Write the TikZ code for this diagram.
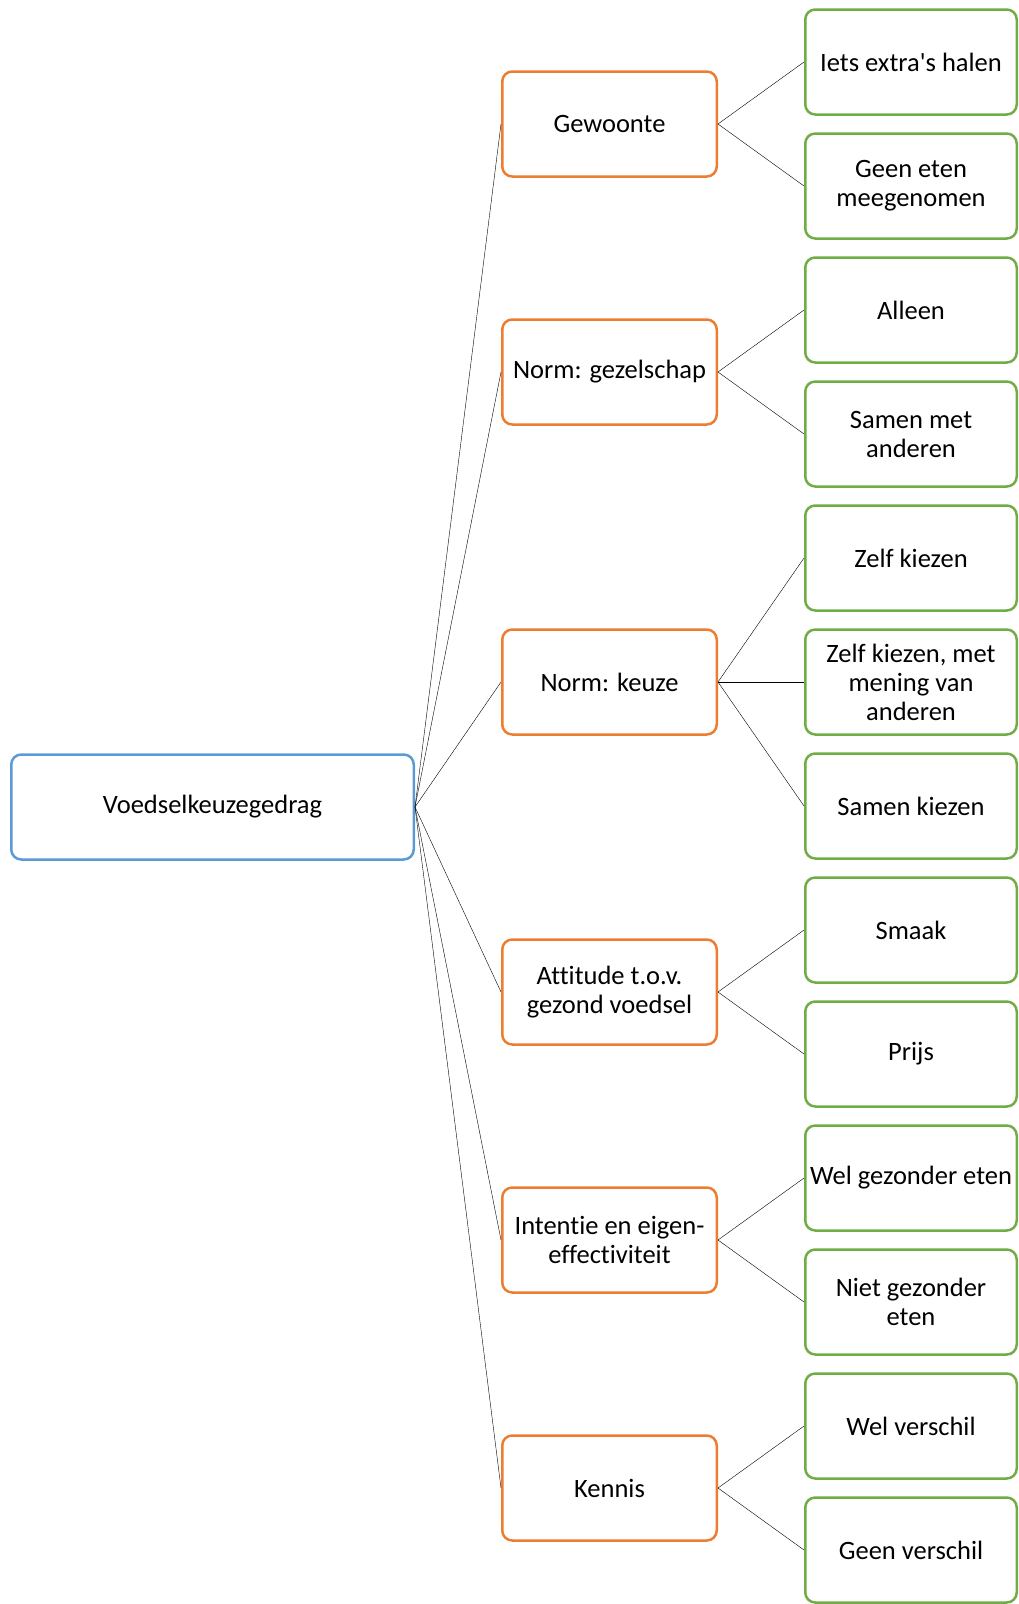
\documentclass[tikz,border=0pt]{standalone}
\usepackage{fontspec}
\newfontfamily\calibri{Carlito}[Ligatures=NoCommon]
\usetikzlibrary{positioning}
\definecolor{hoofdblauw}{HTML}{5B9BD5}
\definecolor{factororanje}{HTML}{ED7D31}
\definecolor{antwoordgroen}{HTML}{70AD47}
\tikzset{
    -,line width=1.2,
    box/.style ={rectangle, rounded corners=10, line width=2.5, align=center,
        font=\calibri\fontsize{26.5}{29}\selectfont, inner sep=2},
    hoofd/.style = {box, draw=hoofdblauw, minimum width=402.5, minimum height=105},
    factor/.style = {box, draw=factororanje, minimum width=214.5, minimum height=105},
    antwoord/.style = {box, draw=antwoordgroen, minimum width=211.5, minimum height=105}
}

\begin{document}
\begin{tikzpicture}[x=1pt,y=-1pt]
	\useasboundingbox (0,0) rectangle (1019,1604);

	\node[hoofd] (voedsel) at (212.5,807) {Voedselkeuzegedrag};

	\node[factor] (gewoonte) at (609.5,124) {Gewoonte};
	\node[factor] (gezelschap) at (609.5,372) {Norm: gezelschap};
	\node[factor] (keuze) at (609.5,682) {Norm: keuze};
	\node[factor] (attitude) at (609.5,992) {Attitude t.o.v.\\gezond voedsel};
	\node[factor] (intentie) at (609.5,1240) {Intentie en eigen-\\effectiviteit};
	\node[factor] (kennis) at (609.5,1488) {Kennis};

	\node[antwoord] (extra) at (911,62) {Iets extra's halen};
	\node[antwoord] (geeneten) at (911,186) {Geen eten\\meegenomen};
	\node[antwoord] (alleen) at (911,310) {Alleen};
	\node[antwoord] (samen) at (911,434) {Samen met\\anderen};
	\node[antwoord] (zelf) at (911,558) {Zelf kiezen};
	\node[antwoord] (mening) at (911,682) {Zelf kiezen, met\\mening van\\anderen};
	\node[antwoord] (samenkiezen) at (911,806) {Samen kiezen};
	\node[antwoord] (smaak) at (911,930) {Smaak};
	\node[antwoord] (prijs) at (911,1054) {Prijs};
	\node[antwoord] (welgezond) at (911,1178) {Wel gezonder eten};
	\node[antwoord] (nietgezond) at (911,1302) {Niet gezonder\\eten};
	\node[antwoord] (welverschil) at (911,1426) {Wel verschil};
	\node[antwoord] (geenverschil) at (911,1550) {Geen verschil};

	\path (voedsel.east) edge (gewoonte.west);
	\path (voedsel.east) edge (gezelschap.west);
	\path (voedsel.east) edge (keuze.west);
	\path (voedsel.east) edge (attitude.west);
	\path (voedsel.east) edge (intentie.west);
	\path (voedsel.east) edge (kennis.west);

	\path (gewoonte.east) edge (extra.west);
	\path (gewoonte.east) edge (geeneten.west);
	\path (gezelschap.east) edge (alleen.west);
	\path (gezelschap.east) edge (samen.west);
	\path (keuze.east) edge (zelf.west);
	\path (keuze.east) edge (mening.west);
	\path (keuze.east) edge (samenkiezen.west);
	\path (attitude.east) edge (smaak.west);
	\path (attitude.east) edge (prijs.west);
	\path (intentie.east) edge (welgezond.west);
	\path (intentie.east) edge (nietgezond.west);
	\path (kennis.east) edge (welverschil.west);
	\path (kennis.east) edge (geenverschil.west);
\end{tikzpicture}
\end{document}
